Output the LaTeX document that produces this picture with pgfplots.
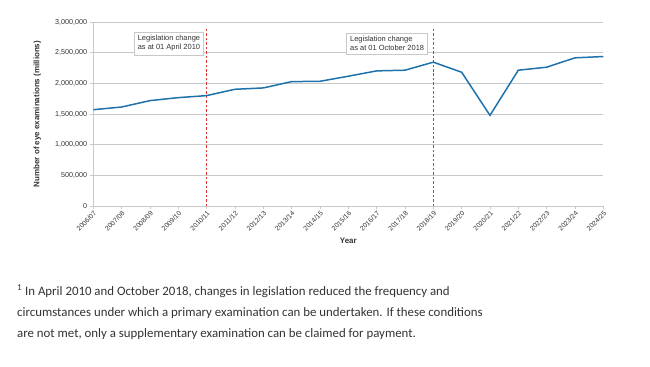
\documentclass[border=0pt]{standalone}
\usepackage{fontspec}
\setmainfont{Liberation Sans}
\newfontfamily\fnfont{Carlito}
\usepackage{pgfplots}
\pgfplotsset{compat=1.18}
\definecolor{lineblue}{RGB}{30,114,172}
\definecolor{gridgray}{RGB}{200,200,200}
\definecolor{txt}{RGB}{51,51,51}
\definecolor{dashred}{RGB}{220,55,55}
\begin{document}
\begin{tikzpicture}[x=1bp,y=1bp]
\path[use as bounding box] (0,0) rectangle (650,366);
\begin{axis}[
  at={(93.3bp,160bp)}, anchor=south west,
  scale only axis, width=510bp, height=184bp,
  xmin=0, xmax=18, ymin=0, ymax=3000000,
  xtick={0,...,18},
  xticklabels={2006/07,2007/08,2008/09,2009/10,2010/11,2011/12,2012/13,2013/14,2014/15,2015/16,2016/17,2017/18,2018/19,2019/20,2020/21,2021/22,2022/23,2023/24,2024/25},
  x tick label style={rotate=45, anchor=north east, font=\fontsize{6.8}{7}\selectfont, text=txt, inner sep=1pt},
  ytick={0,500000,...,3000000},
  scaled y ticks=false,
  /pgf/number format/fixed,
  /pgf/number format/1000 sep={,},
  /pgf/number format/assume math mode=true,
  y tick label style={font=\fontsize{7.2}{8}\selectfont, text=txt, inner sep=1pt, xshift=-2bp},
  ymajorgrids, grid style={gridgray, line width=0.8pt},
  axis line style={gridgray, line width=0.8pt},
  axis x line*=bottom, axis y line*=left,
  tick style={gridgray, line width=0.6pt}, tick align=outside,
  major tick length=3bp,
  xlabel={\textbf{Year}}, ylabel={\textbf{Number of eye examinations (millions)}},
  xlabel style={font=\fontsize{8}{9}\selectfont, text=txt, at={(axis description cs:0.5,0)}, anchor=center, yshift=-35bp},
  ylabel style={font=\fontsize{8}{9}\selectfont, text=txt, at={(axis description cs:-0.11,0.5)}, anchor=center},
  clip=false,
]
\addplot[dashred, line width=1pt, dash pattern=on 2.5pt off 2pt] coordinates {(4,0) (4,2910000)};
\addplot[dashred, line width=1pt, dash pattern=on 2.5pt off 2pt] coordinates {(12,0) (12,2910000)};
\addplot[lineblue, line width=1.5pt, mark=none] coordinates {
(0,1570000) (1,1614000) (2,1718000) (3,1767000) (4,1800000) (5,1903000)
(6,1925000) (7,2028000) (8,2033000) (9,2116000) (10,2203000) (11,2214000)
(12,2345000) (13,2181000) (14,1478000) (15,2214000) (16,2263000)
(17,2416000) (18,2437000)};
\node[draw=gridgray, fill=white, align=left, font=\fontsize{7.5}{9}\selectfont, text=txt, inner sep=3.5pt] at (axis cs:2.67,2649000) {Legislation change\\as at 01 April 2010};
\node[draw=gridgray, fill=white, align=left, font=\fontsize{7.5}{9}\selectfont, text=txt, inner sep=3.5pt] at (axis cs:10.37,2649000) {Legislation change\\as at 01 October 2018};
\end{axis}
\begin{scope}[every node/.style={anchor=base west, inner sep=0pt, text=txt, font=\fnfont\fontsize{12.9}{16}\selectfont}]
\node at (17,366-295) {\textsuperscript{1} In April 2010 and October 2018, changes in legislation reduced the frequency and};
\node at (17,366-316) {circumstances under which a primary examination can be undertaken. If these conditions};
\node at (17,366-337) {are not met, only a supplementary examination can be claimed for payment.};
\end{scope}
\end{tikzpicture}
\end{document}
